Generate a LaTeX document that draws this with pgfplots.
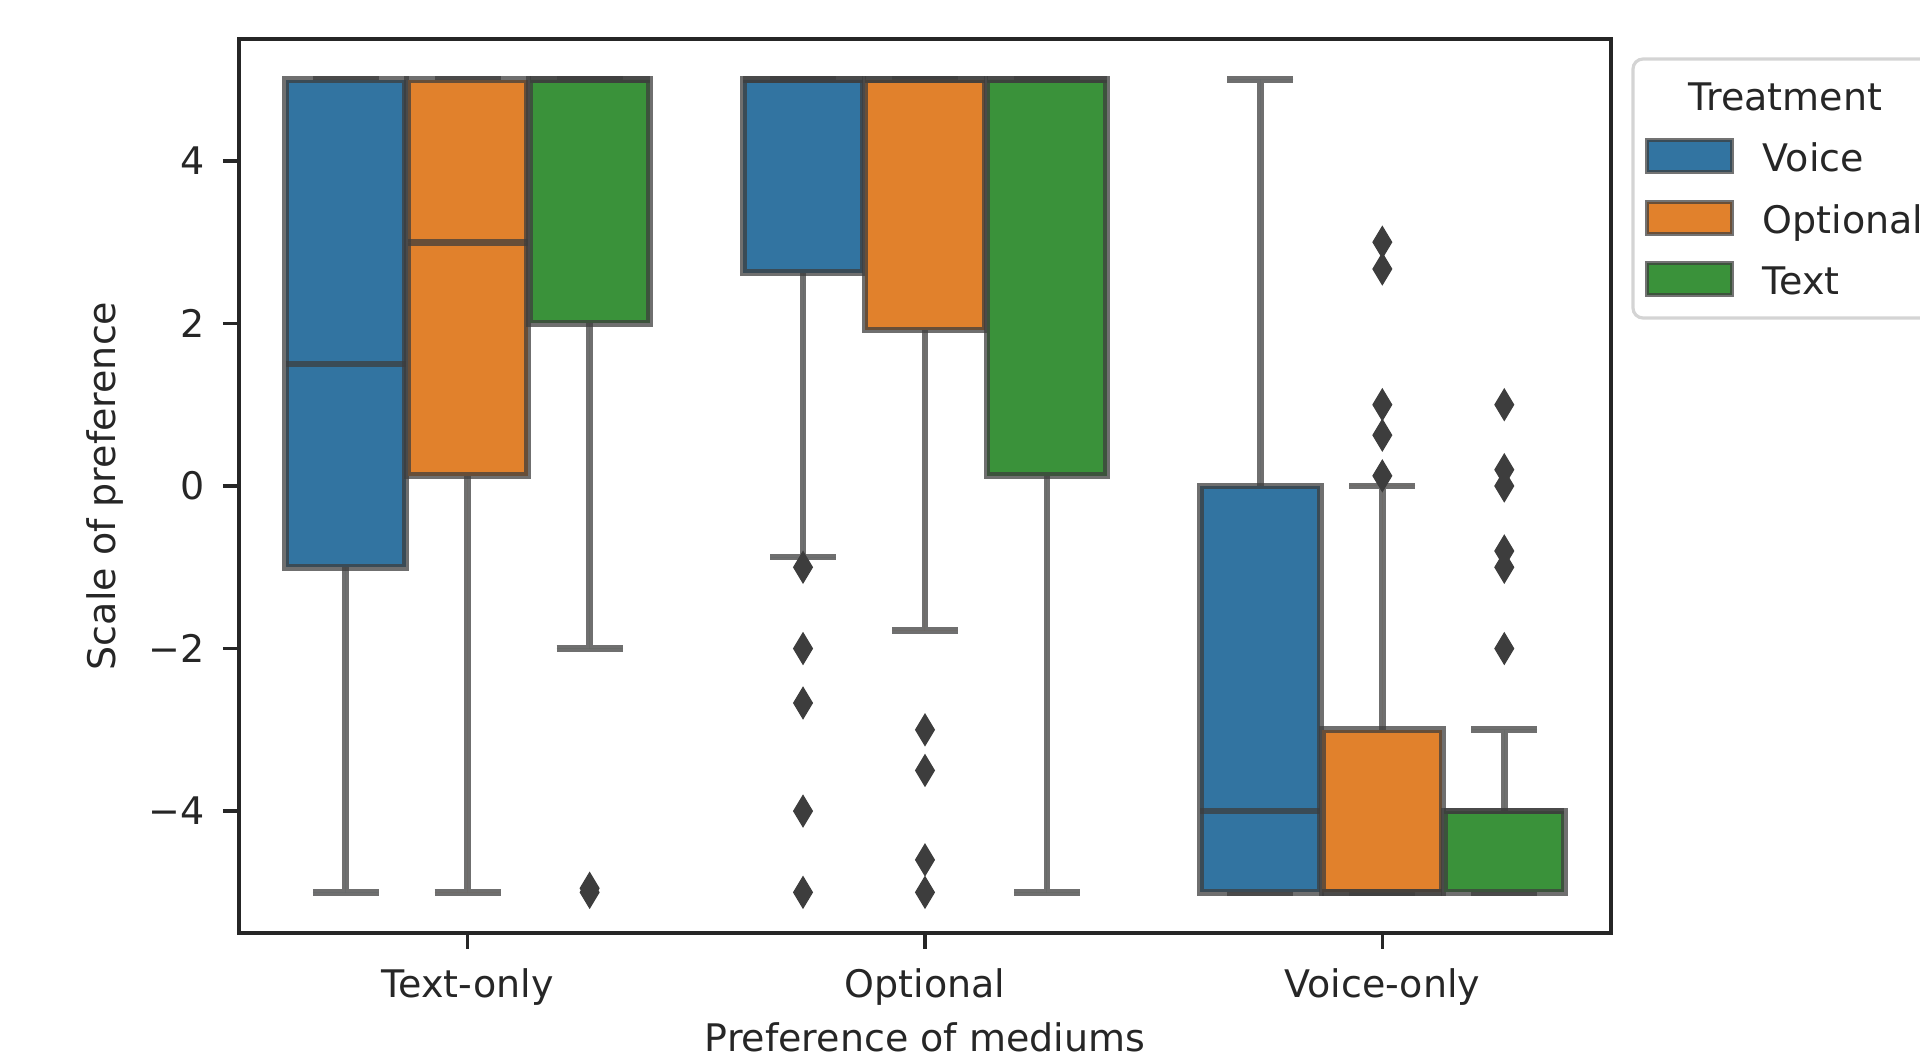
\documentclass[border=0pt]{standalone}
\usepackage{pgfplots}
\pgfplotsset{compat=1.18}
\usepgfplotslibrary{statistics}
\usepackage{fontspec}
\setmainfont{DejaVu Sans}
\definecolor{cblue}{HTML}{3274A1}
\definecolor{corange}{HTML}{E1812C}
\definecolor{cgreen}{HTML}{3A923A}
\definecolor{edge}{HTML}{3D3D3D}
\definecolor{axc}{HTML}{262626}
\definecolor{legc}{HTML}{D4D4D4}
\newcommand{\fs}{\fontsize{9.5}{11.4}\selectfont}
\pgfplotsset{
  bx/.style={
    boxplot/draw direction=y,
    boxplot/box extend=0.262,
    boxplot/whisker extend=0.144,
    draw=edge, draw opacity=0.74, line width=1.7pt,
    mark=diamond*, mark size=3.9pt,
    mark options={draw=edge, fill=edge, draw opacity=1, xscale=0.8, line width=0.3pt, solid},
    solid,
  },
}
\begin{document}
\begin{tikzpicture}[font=\fs]
\useasboundingbox (-59.75pt,-31.75pt) rectangle (420.25pt,233.25pt);
\clip (-59.75pt,-31.75pt) rectangle (420.25pt,233.25pt);
\begin{axis}[
  at={(0pt,0pt)}, anchor=south west,
  width=343pt, height=223.5pt, scale only axis,
  xmin=-0.5, xmax=2.5, ymin=-5.5, ymax=5.5,
  xtick={0,1,2}, xticklabels={Text-only,Optional,Voice-only},
  ytick={-4,-2,0,2,4}, yticklabels={−4,−2,0,2,4},
  tick align=outside, xtick pos=bottom, ytick pos=left,
  major tick length=4pt,
  every tick/.style={axc, line width=0.9pt},
  axis line style={axc, line width=1pt},
  tick label style={font=\fs, text=axc},
  xticklabel style={yshift=-1.5pt},
  yticklabel style={xshift=-1pt},
  label style={font=\fs, text=axc},
  xlabel={Preference of mediums},
  ylabel={Scale of preference},
  xlabel style={at={(axis description cs:0.5,-0.1331)}, anchor=base},
  ylabel style={at={(axis description cs:-0.0977,0.5)}, anchor=center},
]
% Text-only
\addplot[bx, fill=cblue, boxplot prepared={draw position=-0.2667, lower whisker=-5, lower quartile=-1, median=1.5, upper quartile=5, upper whisker=5}] coordinates {};
\addplot[bx, fill=corange, boxplot prepared={draw position=0, lower whisker=-5, lower quartile=0.125, median=3, upper quartile=5, upper whisker=5}] coordinates {};
\addplot[bx, fill=cgreen, boxplot prepared={draw position=0.2667, lower whisker=-2, lower quartile=2, median=5, upper quartile=5, upper whisker=5}] coordinates {(0,-5) (0,-4.95)};
% Optional
\addplot[bx, fill=cblue, boxplot prepared={draw position=0.7333, lower whisker=-0.875, lower quartile=2.625, median=5, upper quartile=5, upper whisker=5}] coordinates {(0,-1) (0,-2) (0,-2.67) (0,-4) (0,-5)};
\addplot[bx, fill=corange, boxplot prepared={draw position=1, lower whisker=-1.78, lower quartile=1.92, median=5, upper quartile=5, upper whisker=5}] coordinates {(0,-3) (0,-3.5) (0,-4.6) (0,-5)};
\addplot[bx, fill=cgreen, boxplot prepared={draw position=1.2667, lower whisker=-5, lower quartile=0.125, median=5, upper quartile=5, upper whisker=5}] coordinates {};
% Voice-only
\addplot[bx, fill=cblue, boxplot prepared={draw position=1.7333, lower whisker=-5, lower quartile=-5, median=-4, upper quartile=0, upper whisker=5}] coordinates {};
\addplot[bx, fill=corange, boxplot prepared={draw position=2, lower whisker=-5, lower quartile=-5, median=-5, upper quartile=-3, upper whisker=0}] coordinates {(0,3) (0,2.67) (0,1) (0,0.625) (0,0.125)};
\addplot[bx, fill=cgreen, boxplot prepared={draw position=2.2667, lower whisker=-5, lower quartile=-5, median=-4, upper quartile=-4, upper whisker=-3}] coordinates {(0,1) (0,0.2) (0,0) (0,-0.8) (0,-1) (0,-2)};
\end{axis}
% legend
\draw[legc, line width=0.8pt, rounded corners=2.5pt, fill=white] (348.5pt,218.5pt) rectangle (470pt,153.75pt);
\node[anchor=base west, inner sep=0pt, text=axc] at (362.25pt,205.5pt) {Treatment};
\filldraw[fill=cblue, draw=edge, draw opacity=0.72, line width=1pt] (352pt,198.25pt) rectangle (373.25pt,190.25pt);
\filldraw[fill=corange, draw=edge, draw opacity=0.72, line width=1pt] (352pt,182.75pt) rectangle (373.25pt,174.75pt);
\filldraw[fill=cgreen, draw=edge, draw opacity=0.72, line width=1pt] (352pt,167.5pt) rectangle (373.25pt,159.5pt);
\node[anchor=base west, inner sep=0pt, text=axc] at (380.75pt,190.25pt) {Voice};
\node[anchor=base west, inner sep=0pt, text=axc] at (380.75pt,174.75pt) {Optional};
\node[anchor=base west, inner sep=0pt, text=axc] at (380.75pt,159.5pt) {Text};
\end{tikzpicture}
\end{document}
